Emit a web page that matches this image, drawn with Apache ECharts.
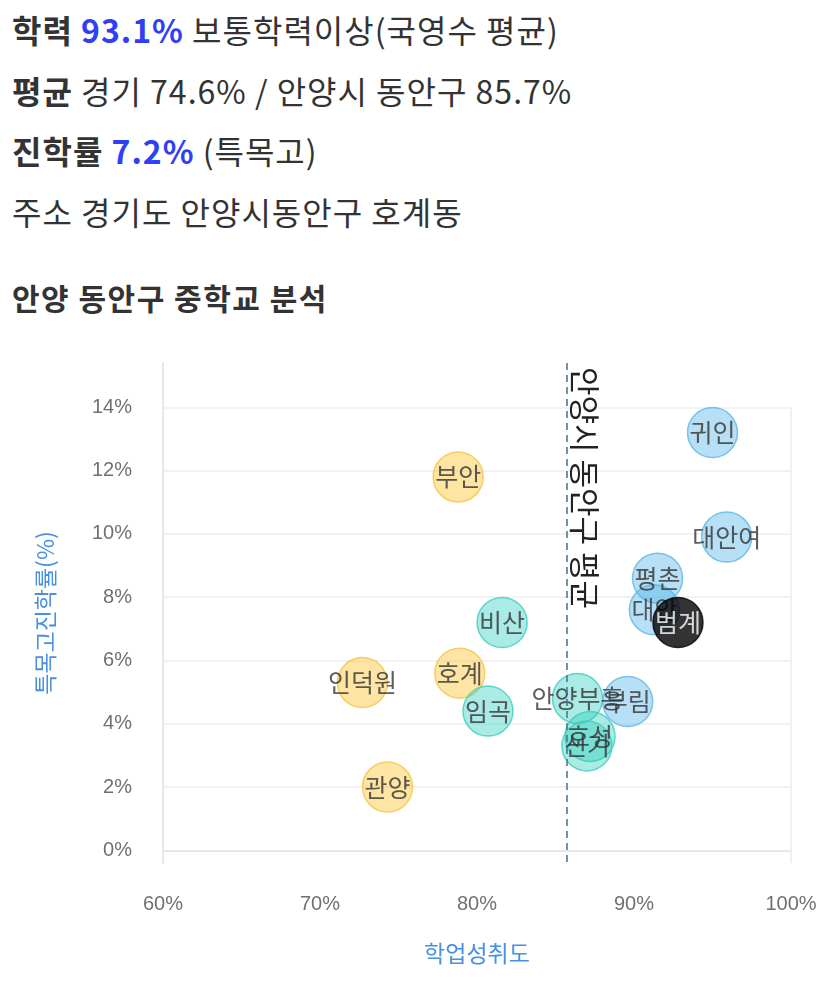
<!DOCTYPE html>
<html>
<head>
<meta charset="utf-8">
<script src="https://cdn.jsdelivr.net/npm/echarts@6/dist/echarts.min.js"></script>
<style>
  html, body { margin: 0; padding: 0; background: #fff; }
  body { width: 827px; height: 995px; position: relative; overflow: hidden;
         font-family: "Noto Sans CJK KR", "Noto Sans", sans-serif; color: #333; }
  .info { position: absolute; left: 12px; top: -1px; }
  .info div { height: 60.7px; line-height: 60.7px; font-size: 32px; letter-spacing: 1px; white-space: nowrap; }
  .info b { font-weight: 700; }
  .info .hi { color: #2f3ff5; font-weight: 700; }
  .title { position: absolute; left: 12px; top: 275px; font-size: 30px; letter-spacing: 1.5px;
           font-weight: 700; line-height: 44px; }
  #chart { position: absolute; left: 0; top: 330px; width: 827px; height: 665px; }
</style>
</head>
<body>
<div class="info">
  <div><b>학력</b> <span class="hi">93.1%</span> 보통학력이상(국영수 평균)</div>
  <div><b>평균</b> 경기 74.6% / 안양시 동안구 85.7%</div>
  <div><b>진학률</b> <span class="hi">7.2%</span> (특목고)</div>
  <div>주소 경기도 안양시동안구 호계동</div>
</div>
<div class="title">안양 동안구 중학교 분석</div>
<div id="chart"></div>
<script>
// -- data: 학업성취도(%) / 특목고진학률(%) --
const lowNames = ['부안', '호계', '인덕원', '관양'];
const lowX = [78.8, 78.9, 72.7, 74.3];
const lowY = [11.8, 5.6, 5.3, 2.0];

const midNames = ['비산', '임곡', '안양부흥', '호성', '신기'];
const midX = [81.6, 80.7, 86.4, 87.2, 87.0];
const midY = [7.2, 4.4, 4.8, 3.6, 3.3];

const highNames = ['귀인', '대안여', '평촌', '대안', '부림'];
const highX = [95.0, 95.9, 91.5, 91.3, 89.6];
const highY = [13.2, 9.9, 8.6, 7.6, 4.7];

const thisNames = ['범계'];
const thisX = [92.8];
const thisY = [7.2];

const districtAvg = 85.7;
const yMin = -0.4;
const yMax = 15.4;
const yTop = 14;

function points(names, xs, ys) {
  return names.map(function (n, i) { return {name: n, value: [xs[i], ys[i]]}; });
}

function bubble(names, xs, ys, fill, border, textColor) {
  return {
    type: 'scatter',
    symbolSize: 50,
    data: points(names, xs, ys),
    itemStyle: {color: fill, borderColor: border, borderWidth: 1.5},
    label: {
      show: true,
      position: 'inside',
      formatter: '{b}',
      color: textColor,
      fontSize: 25,
      fontFamily: 'Noto Sans CJK KR',
      textBorderWidth: 0
    },
    emphasis: {disabled: true}
  };
}

let series = [
  bubble(lowNames, lowX, lowY, 'rgba(252, 196, 45, 0.55)', '#f6c445', '#333'),
  bubble(midNames, midX, midY, 'rgba(44, 206, 190, 0.5)', '#3ccdbf', '#333'),
  bubble(highNames, highX, highY, 'rgba(76, 178, 232, 0.5)', '#5cb6e6', '#333'),
  bubble(thisNames, thisX, thisY, '#000', '#000', '#fff')
];
series[3].z = 5;

// -- reference lines --
series[0].markLine = {
  silent: true,
  symbol: 'none',
  animation: false,
  data: [
    [
      {
        coord: [districtAvg, yMax],
        lineStyle: {color: '#3d7494', width: 1.5, type: [7, 5]},
        label: {
          show: true,
          formatter: '안양시 동안구 평균',
          position: 'insideStartTop',
          distance: [4, 3],
          color: '#222',
          fontSize: 31,
          fontFamily: 'Noto Sans CJK KR'
        }
      },
      {coord: [districtAvg, yMin]}
    ],
    [
      {
        coord: [100, yTop],
        lineStyle: {color: '#ececec', width: 1.5, type: 'solid'},
        label: {show: false}
      },
      {coord: [100, yMin]}
    ]
  ]
};

let option = {
  animation: false,
  grid: {left: 163, right: 36, top: 33, bottom: 132},
  xAxis: {
    type: 'value',
    min: 60,
    max: 100,
    interval: 10,
    name: '학업성취도',
    nameLocation: 'middle',
    nameGap: 79,
    nameTextStyle: {color: '#4a90e2', fontSize: 23, fontFamily: 'Noto Sans CJK KR'},
    axisLine: {show: true, lineStyle: {color: '#e8e8e8', width: 2}},
    axisTick: {show: false},
    axisLabel: {formatter: '{value}%', color: '#707070', fontSize: 20, margin: 31},
    splitLine: {show: false}
  },
  yAxis: {
    type: 'value',
    min: yMin,
    max: yMax,
    splitNumber: 8,
    name: '특목고진학률(%)',
    nameLocation: 'middle',
    nameGap: 106,
    nameTextStyle: {color: '#4a90e2', fontSize: 23, fontFamily: 'Noto Sans CJK KR'},
    axisLine: {show: true, lineStyle: {color: '#e8e8e8', width: 2}},
    axisTick: {show: false},
    axisLabel: {formatter: '{value}%', color: '#707070', fontSize: 20, margin: 31,
                showMinLabel: false, showMaxLabel: false},
    splitLine: {show: true, showMinLine: false, showMaxLine: false,
                lineStyle: {color: '#eeeeee', width: 1.5}}
  },
  series: series
};

let myChart = echarts.init(document.getElementById('chart'));
myChart.setOption(option);
</script>
</body>
</html>
